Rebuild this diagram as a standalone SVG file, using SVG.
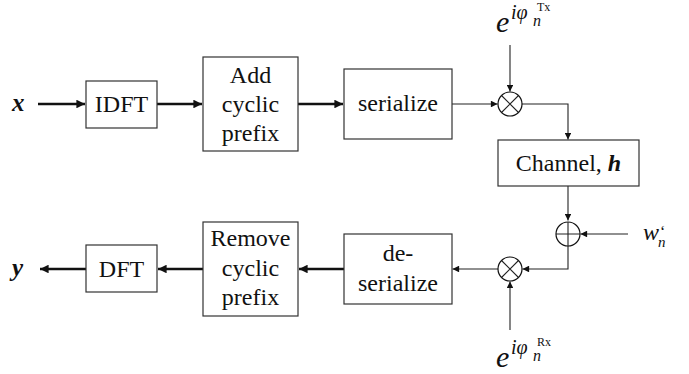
<svg xmlns="http://www.w3.org/2000/svg" width="689" height="374" viewBox="0 0 689 374" font-family="'Liberation Serif', 'DejaVu Serif', 'Times New Roman', serif">
  <style>
    text { font-family: "Liberation Serif", "DejaVu Serif", "Times New Roman", serif; }
    .box { fill: #fff; stroke: #333; stroke-width: 1.2; }
    .lbl { font-size: 24px; fill: #111; text-anchor: middle; }
    .var { font-weight: bold; font-style: italic; font-size: 25px; fill: #111; }
    .thick { stroke: #111; stroke-width: 2.4; fill: none; }
    .thin { stroke: #222; stroke-width: 1.1; fill: none; }
    .op { fill: #fff; stroke: #111; stroke-width: 1.2; }
    .math { fill: #111; }
  </style>
  <defs>
    <marker id="bigHead" viewBox="0 0 10 10" refX="10" refY="5" markerWidth="4.2" markerHeight="3.6" markerUnits="strokeWidth" orient="auto">
      <path d="M0,0 L10,5 L0,10 Z" fill="#111"/>
    </marker>
    <marker id="smallHead" viewBox="0 0 10 10" refX="10" refY="5" markerWidth="7" markerHeight="6" markerUnits="strokeWidth" orient="auto">
      <path d="M0,0 L10,5 L0,10 Z" fill="#111"/>
    </marker>
  </defs>

  <!-- connectors -->
  <g id="connectors">
    <line class="thick" x1="38" y1="104" x2="85" y2="104" marker-end="url(#bigHead)"/>
    <line class="thick" x1="157" y1="104" x2="202" y2="104" marker-end="url(#bigHead)"/>
    <line class="thick" x1="298" y1="104" x2="343" y2="104" marker-end="url(#bigHead)"/>
    <line class="thin" x1="452" y1="104" x2="497.5" y2="104" marker-end="url(#smallHead)"/>
    <line class="thin" x1="510" y1="45" x2="510" y2="91.5" marker-end="url(#smallHead)"/>
    <polyline class="thin" points="522,104 568,104 568,139.5" marker-end="url(#smallHead)"/>
    <line class="thin" x1="568" y1="186" x2="568" y2="220.5" marker-end="url(#smallHead)"/>
    <line class="thin" x1="628" y1="234" x2="580.5" y2="234" marker-end="url(#smallHead)"/>
    <polyline class="thin" points="568,246 568,269 522.5,269" marker-end="url(#smallHead)"/>
    <line class="thin" x1="510" y1="330" x2="510" y2="281.5" marker-end="url(#smallHead)"/>
    <line class="thin" x1="498" y1="269" x2="452.5" y2="269" marker-end="url(#smallHead)"/>
    <line class="thick" x1="344" y1="269" x2="299" y2="269" marker-end="url(#bigHead)"/>
    <line class="thick" x1="203" y1="269" x2="158" y2="269" marker-end="url(#bigHead)"/>
    <line class="thick" x1="86" y1="269" x2="40" y2="269" marker-end="url(#bigHead)"/>
  </g>

  <g id="input-x">
    <text class="var" x="12" y="111">x</text>
  </g>

  <g id="idft">
    <rect class="box" x="86" y="81" width="71" height="47"/>
    <text class="lbl" x="121.5" y="112">IDFT</text>
  </g>

  <g id="add-cp">
    <rect class="box" x="203" y="57" width="95" height="94"/>
    <text class="lbl" x="250.5" y="83">Add</text>
    <text class="lbl" x="250.5" y="112">cyclic</text>
    <text class="lbl" x="250.5" y="141">prefix</text>
  </g>

  <g id="serialize">
    <rect class="box" x="344" y="69" width="108" height="70"/>
    <text class="lbl" x="398" y="111">serialize</text>
  </g>

  <g id="mix-tx">
    <circle class="op" cx="510" cy="104" r="12"/>
    <path class="thin" d="M501.5,95.5 L518.5,112.5 M518.5,95.5 L501.5,112.5"/>
  </g>

  <g id="phase-tx">
    <text class="math" font-style="italic"><tspan x="496" y="32" font-size="30">e</tspan><tspan x="511" y="19" font-size="20">iφ</tspan><tspan x="533" y="26" font-size="16">n</tspan><tspan x="537" y="11" font-size="12" font-style="normal">Tx</tspan></text>
  </g>

  <g id="channel">
    <rect class="box" x="498" y="140" width="141" height="46"/>
    <text class="lbl" x="568.5" y="171"><tspan>Channel, </tspan><tspan font-weight="bold" font-style="italic">h</tspan></text>
  </g>

  <g id="adder">
    <circle class="op" cx="568" cy="234" r="12"/>
    <path class="thin" d="M556,234 L580,234 M568,222 L568,246"/>
  </g>

  <g id="noise">
    <text class="math" font-style="italic"><tspan x="643" y="240" font-size="24">w</tspan><tspan x="660" y="237" font-size="16" font-style="normal">‘</tspan><tspan x="658" y="247" font-size="15">n</tspan></text>
  </g>

  <g id="mix-rx">
    <circle class="op" cx="510" cy="269" r="12"/>
    <path class="thin" d="M501.5,260.5 L518.5,277.5 M518.5,260.5 L501.5,277.5"/>
  </g>

  <g id="phase-rx">
    <text class="math" font-style="italic"><tspan x="496" y="367" font-size="30">e</tspan><tspan x="511" y="354" font-size="20">iφ</tspan><tspan x="533" y="361" font-size="16">n</tspan><tspan x="537" y="346" font-size="12" font-style="normal">Rx</tspan></text>
  </g>

  <g id="deserialize">
    <rect class="box" x="344" y="234" width="108" height="70"/>
    <text class="lbl" x="398" y="261">de-</text>
    <text class="lbl" x="398" y="291">serialize</text>
  </g>

  <g id="remove-cp">
    <rect class="box" x="203" y="222" width="95" height="94"/>
    <text class="lbl" x="250.5" y="246">Remove</text>
    <text class="lbl" x="250.5" y="276">cyclic</text>
    <text class="lbl" x="250.5" y="305">prefix</text>
  </g>

  <g id="dft">
    <rect class="box" x="86" y="245" width="71" height="47"/>
    <text class="lbl" x="121.5" y="277">DFT</text>
  </g>

  <g id="output-y">
    <text class="var" x="12" y="276">y</text>
  </g>
</svg>
